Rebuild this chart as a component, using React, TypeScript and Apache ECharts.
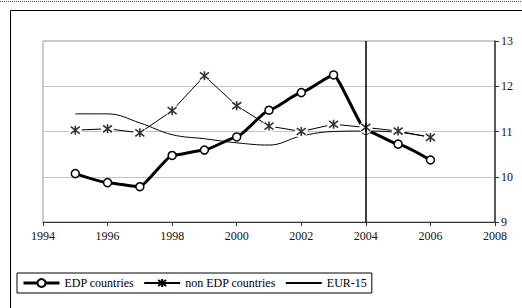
import React, { useEffect, useRef } from "react";
import * as echarts from "echarts";

const years = [1995, 1996, 1997, 1998, 1999, 2000, 2001, 2002, 2003, 2004, 2005, 2006];
const edp = [10.07, 9.87, 9.78, 10.47, 10.59, 10.88, 11.47, 11.86, 12.25, 11.03, 10.72, 10.37];
const nonEdp = [11.03, 11.06, 10.97, 11.46, 12.23, 11.57, 11.12, 11.0, 11.16, 11.09, 11.01, 10.87];
const eur15 = [11.39, 11.39, 11.19, 10.93, 10.84, 10.75, 10.7, 10.9, 11.0, 11.01, 10.98, 10.88];
const seriesNames = ["EDP countries", "non EDP countries", "EUR-15"];
const markerYear = 2004;

const FONT = '"Times New Roman", "Liberation Serif", "DejaVu Serif", serif';
const STAR = "path://M0,0L10,10M10,0L0,10M5,-1.5L5,11.5";

const pairs = (vals: number[]) => years.map((y, i) => [y, vals[i]]);

export default function App() {
  const ref = useRef<HTMLDivElement>(null);
  useEffect(() => {
    if (!ref.current) return;
    const chart = echarts.init(ref.current, undefined, { renderer: "svg" });
    chart.setOption({
      animation: false,
      backgroundColor: "#fff",
      textStyle: { fontFamily: FONT },
      grid: {
        left: 43,
        top: 41,
        width: 452,
        height: 181,
        show: true,
        borderColor: "#9a9a9a",
        borderWidth: 1,
      },
      xAxis: {
        type: "value",
        min: 1994,
        max: 2008,
        interval: 2,
        axisLine: { show: true, onZero: false, lineStyle: { color: "#333", width: 1.2 } },
        axisTick: { show: true, inside: false, length: 4, lineStyle: { color: "#333" } },
        splitLine: { show: false },
        axisLabel: {
          margin: 8,
          color: "#111",
          fontFamily: FONT,
          fontSize: 12,
          formatter: (v: number) => String(v),
        },
      },
      yAxis: {
        type: "value",
        position: "right",
        min: 9,
        max: 13,
        interval: 1,
        axisLine: { show: true, lineStyle: { color: "#333", width: 1.5 } },
        axisTick: { show: true, inside: false, length: 4, lineStyle: { color: "#333" } },
        splitLine: { show: true, lineStyle: { color: "#c4c4c4", width: 1 } },
        axisLabel: { margin: 6, color: "#111", fontFamily: FONT, fontSize: 12 },
      },
      legend: {
        left: 17,
        top: 273,
        orient: "horizontal",
        borderColor: "#000",
        borderWidth: 1,
        borderRadius: 0,
        padding: [4, 5, 4, 5],
        itemWidth: 36,
        itemHeight: 10,
        itemGap: 9,
        data: [
          { name: seriesNames[0], lineStyle: { width: 3, color: "#000" } },
          { name: seriesNames[1] },
          { name: seriesNames[2] },
        ],
        textStyle: { fontFamily: FONT, fontSize: 12, color: "#000" },
      },
      graphic: [
        {
          type: "line",
          shape: { x1: 0, y1: 1.5, x2: 522, y2: 1.5 },
          style: { stroke: "#555", lineWidth: 1, lineDash: [1, 1] },
          silent: true,
        },
        {
          type: "rect",
          shape: { x: 10.5, y: 10.5, width: 530, height: 320 },
          style: { fill: "none", stroke: "#000", lineWidth: 1 },
          silent: true,
        },
      ],
      series: [
        {
          name: seriesNames[2],
          type: "line",
          data: pairs(eur15),
          smooth: 0.4,
          showSymbol: false,
          symbol: "none",
          lineStyle: { color: "#000", width: 1 },
          itemStyle: { color: "rgba(0,0,0,0)", borderColor: "rgba(0,0,0,0)", borderWidth: 0 },
          z: 2,
        },
        {
          name: seriesNames[1],
          type: "line",
          data: pairs(nonEdp),
          symbol: STAR,
          symbolSize: 9,
          lineStyle: { color: "#000", width: 1 },
          itemStyle: { color: "#000", borderColor: "#000", borderWidth: 1.6 },
          z: 2,
        },
        {
          name: seriesNames[0],
          type: "line",
          data: pairs(edp),
          smooth: 0.15,
          smoothMonotone: "x",
          symbol: "circle",
          symbolSize: 8,
          lineStyle: { color: "#000", width: 3 },
          itemStyle: { color: "#fff", borderColor: "#000", borderWidth: 1.5 },
          z: 2,
          markLine: {
            silent: true,
            symbol: ["none", "none"],
            label: { show: false },
            lineStyle: { color: "#000", width: 1.5, type: "solid" },
            data: [{ xAxis: markerYear }],
          },
        },
        {
          name: "bg",
          type: "scatter",
          data: pairs(nonEdp),
          symbol: "circle",
          symbolSize: 13,
          itemStyle: { color: "#fff", opacity: 1 },
          silent: true,
          z: 3,
        },
        {
          name: "stars",
          type: "scatter",
          data: pairs(nonEdp),
          symbol: STAR,
          symbolSize: 9,
          itemStyle: { color: "#000", borderColor: "#000", borderWidth: 1.6 },
          silent: true,
          z: 4,
        },
      ],
    });
    return () => chart.dispose();
  }, []);
  return (
    <div
      ref={ref}
      style={{ position: "absolute", left: 0, top: 0, width: 522, height: 308 }}
    />
  );
}
